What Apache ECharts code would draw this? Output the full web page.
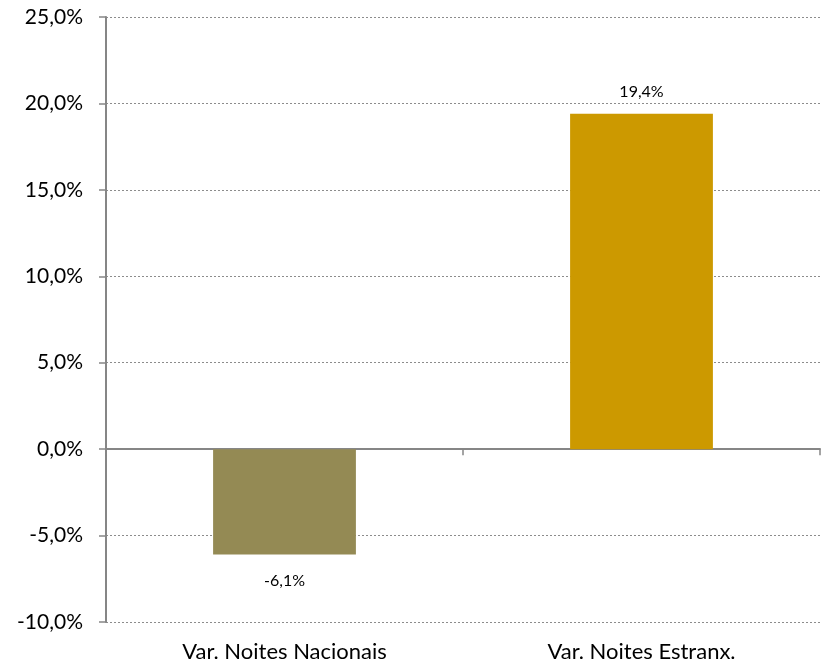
<!DOCTYPE html>
<html><head><meta charset="utf-8">
<script src="https://cdn.jsdelivr.net/npm/echarts@6/dist/echarts.min.js"></script>
<style>html,body{margin:0;padding:0;background:#fff}#c{width:821px;height:663px}</style>
</head><body><div id="c"></div>
<script>
const categories = ['Var. Noites Nacionais', 'Var. Noites Estranx.'];
const values = [-6.1, 19.4];
const barColors = ['#948A54', '#CC9900'];
const yMin = -10, yMax = 25, yStep = 5;

const fmt = v => v.toFixed(1).replace('.', ',') + '%';
const font = 'Lato, "Open Sans", "Liberation Sans", sans-serif';

const chart = echarts.init(document.getElementById('c'));
chart.setOption({
  animation: false,
  grid: { left: 106, right: 1, top: 17, bottom: 41, containLabel: false },
  xAxis: [{
    type: 'category', data: categories,
    axisLine: { onZero: true, lineStyle: { color: '#868686', width: 2 } },
    axisTick: { show: true, inside: false, length: 6, lineStyle: { color: '#868686', width: 1.5 } },
    axisLabel: { show: false }
  }, {
    type: 'category', data: categories, position: 'bottom',
    axisLine: { show: false, onZero: false }, axisTick: { show: false },
    axisLabel: { show: true, color: '#000', fontSize: 22, fontFamily: font, margin: 19 }
  }],
  yAxis: {
    type: 'value', min: yMin, max: yMax, interval: yStep,
    axisLine: { show: true, lineStyle: { color: '#868686', width: 2 } },
    axisTick: { show: true, length: 7, lineStyle: { color: '#868686', width: 1.5 } },
    axisLabel: { color: '#000', fontSize: 21, fontFamily: font, margin: 23, formatter: v => fmt(v) },
    splitLine: { show: true, lineStyle: { color: '#8c8c8c', type: [2, 2], width: 1 } }
  },
  series: [{
    type: 'bar', xAxisIndex: 0, barWidth: '40%',
    data: values.map((v, i) => ({
      value: v,
      itemStyle: { color: barColors[i] },
      label: { show: true, position: v < 0 ? 'bottom' : 'top', distance: v < 0 ? 18 : 14,
               formatter: p => fmt(p.value), color: '#000', fontSize: 16, fontFamily: font }
    }))
  }]
});
</script></body></html>
